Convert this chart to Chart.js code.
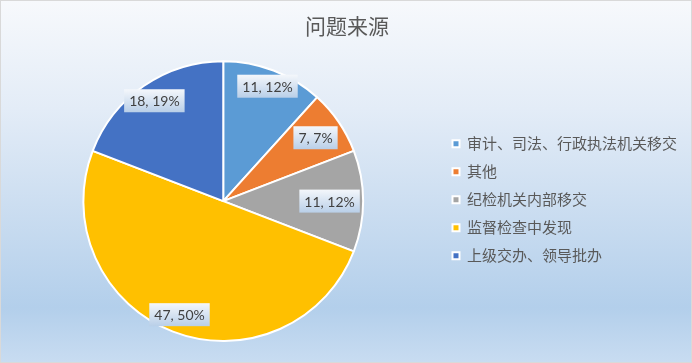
<!DOCTYPE html>
<html>
<head>
<meta charset="utf-8">
<script src="https://cdn.jsdelivr.net/npm/chart.js@4/dist/chart.umd.min.js"></script>
<style>
  html, body { margin: 0; padding: 0; }
  #wrap {
    width: 692px; height: 363px; box-sizing: border-box;
    border: 1px solid #d9d9d9;
    background: linear-gradient(to bottom, #f7f9fc 0%, #e3ecf7 30%, #c9dcf0 60%, #b3cfeb 85%, #c8dcf1 100%);
  }
</style>
</head>
<body>
<div id="wrap"><canvas id="chart" width="690" height="361"></canvas></div>
<script>
// --- DATA ---
const title = '问题来源';
const categories = ['审计、司法、行政执法机关移交', '其他', '纪检机关内部移交', '监督检查中发现', '上级交办、领导批办'];
const values = [11, 7, 11, 47, 18];
const colors = ['#5b9bd5', '#ed7d31', '#a5a5a5', '#ffc000', '#4472c4'];

// --- SLICE LABELS (value, percent in a little gradient box) ---
const sliceLabels = {
    id: 'sliceLabels',
    afterDatasetsDraw(chart, args, opts) {
        const ctx = chart.ctx;
        const total = values.reduce((a, b) => a + b, 0);
        chart.getDatasetMeta(0).data.forEach((arc, i) => {
            const p = arc.getProps(['x', 'y', 'startAngle', 'endAngle', 'outerRadius'], true);
            const mid = (p.startAngle + p.endAngle) / 2;
            const r = p.outerRadius * opts.radius[i];
            const cx = p.x + Math.cos(mid) * r;
            const cy = p.y + Math.sin(mid) * r;
            const text = values[i] + ', ' + Math.round(values[i] / total * 100) + '%';
            ctx.save();
            ctx.font = opts.font;
            const w = ctx.measureText(text).width + 10, h = 23;
            const g = ctx.createLinearGradient(0, cy - h / 2, 0, cy + h / 2);
            g.addColorStop(0, '#f4f7fb');
            g.addColorStop(1, '#b9cfe8');
            ctx.fillStyle = g;
            ctx.fillRect(cx - w / 2, cy - h / 2, w, h);
            ctx.fillStyle = '#404040';
            ctx.textAlign = 'center';
            ctx.textBaseline = 'middle';
            ctx.fillText(text, cx, cy + 1);
            ctx.restore();
        });
    }
};

new Chart(document.getElementById('chart'), {
    type: 'pie',
    data: {
        labels: categories,
        datasets: [{
            data: values,
            backgroundColor: colors,
            borderColor: '#ffffff',
            borderWidth: 2
        }]
    },
    options: {
        responsive: false,
        animation: false,
        layout: { padding: { left: 6, right: 4, bottom: 20 } },
        plugins: {
            title: {
                display: true,
                text: title,
                color: '#595959',
                font: { family: '"Noto Sans CJK SC"', size: 21, weight: 'normal' },
                padding: { top: 12, bottom: 22 }
            },
            legend: {
                position: 'right',
                // empty legend title only pushes the items down a bit
                title: { display: true, text: '', font: { size: 12 }, padding: { top: 42, bottom: 0 } },
                labels: {
                    boxWidth: 7,
                    boxHeight: 7,
                    padding: 13,
                    color: '#595959',
                    font: { family: '"Noto Sans CJK SC"', size: 15 }
                }
            },
            tooltip: { enabled: false },
            sliceLabels: {
                radius: [0.88, 0.8, 0.76, 0.87, 0.87],
                font: '14px Lato'
            }
        }
    },
    plugins: [sliceLabels]
});
</script>
</body>
</html>
